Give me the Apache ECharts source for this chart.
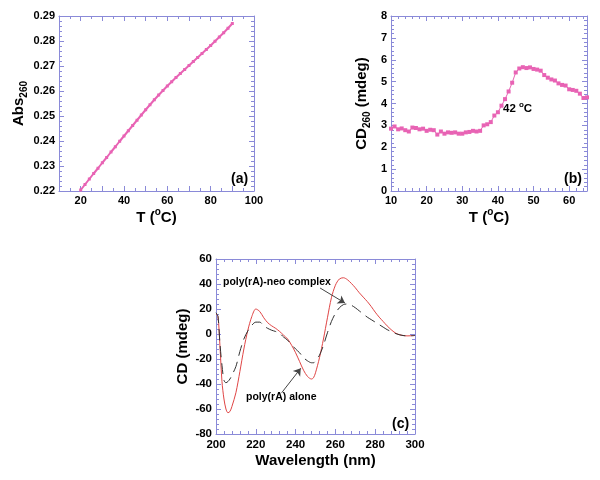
<!DOCTYPE html>
<html><head><meta charset="utf-8">
<script src="https://cdn.jsdelivr.net/npm/echarts@6/dist/echarts.min.js"></script>
<style>html,body{margin:0;padding:0;background:#fff}#c{width:600px;height:480px}</style>
</head><body><div id="c"></div>
<script>
// Panel (a): Abs260 vs T
const absTemp = [20,22,24,26,28,30,32,34,36,38,40,42,44,46,48,50,52,54,56,58,60,62,64,66,68,70,72,74,76,78,80,82,84,86,88,90];
const absValues = [0.2204,0.2226,0.2248,0.2270,0.2291,0.2313,0.2334,0.2356,0.2377,0.2399,0.2420,0.2441,0.2462,0.2483,0.2504,0.2525,0.2545,0.2565,0.2584,0.2602,0.2620,0.2637,0.2654,0.2670,0.2686,0.2702,0.2718,0.2734,0.2750,0.2766,0.2782,0.2799,0.2816,0.2833,0.2851,0.2870];
// Panel (b): CD260 vs T
const cdTemp = [10,11,12,13,14,15,16,17,18,19,20,21,22,23,24,25,26,27,28,29,30,31,32,33,34,35,36,37,38,39,40,41,42,43,44,45,46,47,48,49,50,51,52,53,54,55,56,57,58,59,60,61,62,63,64,65];
const cdValues = [2.85,2.95,2.82,2.86,2.78,2.72,2.90,2.88,2.82,2.85,2.75,2.80,2.78,2.58,2.72,2.62,2.68,2.66,2.68,2.62,2.62,2.68,2.70,2.75,2.72,2.75,3.00,3.05,3.15,3.45,3.60,3.90,4.20,4.55,4.95,5.42,5.60,5.66,5.62,5.65,5.58,5.55,5.50,5.30,5.18,5.10,5.05,4.92,4.85,4.82,4.65,4.62,4.58,4.45,4.25,4.28];
// Panel (c): CD spectra
const wavelengths = [200,201,202,203,204,205,206,207,208,210,212,214,216,218,220,222,224,226,228,230,232,234,236,238,240,242,244,246,248,249,250,252,254,256,258,260,262,264,266,268,270,272,274,276,278,280,282,284,286,288,290,292,294,296,298,300];
const polyRAalone = [16,14,-10,-38,-52,-60,-63,-62,-58,-47,-30,-12,3,14,20,18,13,9,6.5,4.5,2,-1,-4,-9,-15,-22,-29,-34,-36,-35,-31,-19,-4,13,29,39,44,45,43.5,40.5,37,33,29.5,26,22,17.5,13.5,10,6.5,3.5,1,-0.5,-1.2,-1.5,-1.4,-1.2];
const polyRAneo = [17,14,-8,-25,-37,-39,-38,-36,-33,-26,-14,-4,2.5,7,9.5,9.5,6.5,4.5,3,2,0.5,-2.5,-5,-8.5,-12,-15,-19,-21.5,-23,-23,-21.5,-17,-9,1,10,16.5,21,23.5,24,23,21,18.5,16,13.5,11.5,9.5,7.5,5.5,3.5,2,0.5,-0.5,-1.2,-1.5,-1.4,-1.2];

const AX = '#8a8ad8';
const FONT = '"Liberation Sans", Arial, sans-serif';
const PINK = '#e863b4';
const labelStyle = {color:'#000', fontWeight:'bold', fontSize:11, fontFamily:FONT};
const nameRich = {
  n:{fontSize:15, lineHeight:21, fontWeight:'bold', fontFamily:FONT, color:'#000'},
  s:{fontSize:10, lineHeight:10, fontWeight:'bold', fontFamily:FONT, color:'#000', verticalAlign:'top'},
  b:{fontSize:10, lineHeight:10, fontWeight:'bold', fontFamily:FONT, color:'#000', verticalAlign:'bottom'}
};
function ax(gridIndex, pos, min, max, interval, showLabel, fmt, extra){
  return Object.assign({
    type:'value', gridIndex, position:pos, min, max, interval,
    axisLine:{show:true, onZero:false, lineStyle:{color:AX, width:1}},
    axisTick:{show:true, inside:true, length:5, lineStyle:{color:AX}},
    minorTick:{show:true, splitNumber:5, length:3, lineStyle:{color:AX}},
    splitLine:{show:false},
    axisLabel: showLabel ? Object.assign({margin:4, formatter:fmt}, labelStyle) : {show:false}
  }, extra||{});
}
const zip = (a,b)=>a.map((v,i)=>[v,b[i]]);

const option = {
  animation:false,
  backgroundColor:'#fff',
  grid:[
    {left:59, top:16, width:195, height:175},
    {left:391, top:16, width:196, height:175},
    {left:216, top:259, width:199, height:175}
  ],
  xAxis:[
    ax(0,'bottom',10,100,10,true,v=>(v%20===0&&v>=20)?String(v):'',
      {minorTick:{show:true,splitNumber:2,length:3,lineStyle:{color:AX}},
       name:'{n|T (}{s|o}{n|C)}', nameLocation:'middle', nameGap:7, nameTextStyle:{rich:nameRich}}),
    ax(0,'top',10,100,10,false,null,{minorTick:{show:true,splitNumber:2,length:3,lineStyle:{color:AX}}}),
    ax(1,'bottom',10,65,10,true,v=>v<=60?String(v):'',
      {name:'{n|T (}{s|o}{n|C)}', nameLocation:'middle', nameGap:10, nameTextStyle:{rich:nameRich}}),
    ax(1,'top',10,65,10,false),
    ax(2,'bottom',200,300,20,true,v=>String(v),
      {axisLabel:Object.assign({margin:5},labelStyle,{fontSize:11.5}),
       name:'Wavelength (nm)', nameLocation:'middle', nameGap:19,
       nameTextStyle:{fontSize:15, fontWeight:'bold', fontFamily:FONT, color:'#000'}}),
    ax(2,'top',200,300,20,false)
  ],
  yAxis:[
    ax(0,'left',0.22,0.29,0.01,true,v=>v.toFixed(2),
      {name:'{n|Abs}{b|260}', nameLocation:'middle', nameGap:28, nameTextStyle:{rich:nameRich}}),
    ax(0,'right',0.22,0.29,0.01,false),
    ax(1,'left',0,8,1,true,v=>String(v),
      {name:'{n|CD}{b|260}{n| (mdeg)}', nameLocation:'middle', nameGap:19, nameTextStyle:{rich:nameRich}}),
    ax(1,'right',0,8,1,false),
    ax(2,'left',-80,60,20,true,v=>String(v),
      {axisLabel:Object.assign({margin:4},labelStyle,{fontSize:11.5}),
       name:'CD (mdeg)', nameLocation:'middle', nameGap:26,
       nameTextStyle:{fontSize:15, fontWeight:'bold', fontFamily:FONT, color:'#000'}}),
    ax(2,'right',-80,60,20,false)
  ],
  series:[
    {type:'line', xAxisIndex:0, yAxisIndex:0, data:zip(absTemp,absValues),
     symbol:'rect', symbolSize:3, showSymbol:true, lineStyle:{color:PINK,width:2}, itemStyle:{color:PINK}},
    {type:'line', xAxisIndex:2, yAxisIndex:2, data:zip(cdTemp,cdValues),
     symbol:'rect', symbolSize:4, showSymbol:true, lineStyle:{color:PINK,width:1}, itemStyle:{color:PINK}},
    {type:'line', xAxisIndex:4, yAxisIndex:4, data:zip(wavelengths,polyRAalone), smooth:0.3,
     showSymbol:false, lineStyle:{color:'#e04545',width:1}, itemStyle:{color:'#e04545'},
     markLine:{silent:true, symbol:['none','arrow'], symbolSize:7, label:{show:false},
       lineStyle:{color:'#444', width:1, type:'solid'},
       data:[
         [{coord:[252.3,36.8]},{coord:[264.8,24.8]}],
         [{coord:[233,-47]},{coord:[242.6,-27.4]}]
       ]}},
    {type:'line', xAxisIndex:4, yAxisIndex:4, data:zip(wavelengths,polyRAneo), smooth:0.3,
     showSymbol:false, lineStyle:{color:'#333',width:1,type:[11,6]}, itemStyle:{color:'#333'}}
  ],
  graphic:[
    {type:'text', left:231, top:172, style:{text:'(a)', font:'bold 14px '+FONT, fill:'#000'}},
    {type:'text', left:564, top:172, style:{text:'(b)', font:'bold 14px '+FONT, fill:'#000'}},
    {type:'text', left:392, top:417, style:{text:'(c)', font:'bold 14px '+FONT, fill:'#000'}},
    {type:'text', left:503, top:101, style:{text:'{n|42 }{s|o}{n|C}', fill:'#000',
      rich:{n:{fontSize:11.5, lineHeight:16, fontWeight:'bold', fontFamily:FONT, fill:'#000'},
            s:{fontSize:8, lineHeight:8, fontWeight:'bold', fontFamily:FONT, fill:'#000', verticalAlign:'top'}}}},
    {type:'text', left:223, top:277, style:{text:'poly(rA)-neo complex', font:'bold 10.5px '+FONT, fill:'#000'}},
    {type:'text', left:246, top:392, style:{text:'poly(rA) alone', font:'bold 10.5px '+FONT, fill:'#000'}}
  ]
};
const chart = echarts.init(document.getElementById('c'), null, {renderer:'canvas'});
chart.setOption(option);
</script>
</body></html>
